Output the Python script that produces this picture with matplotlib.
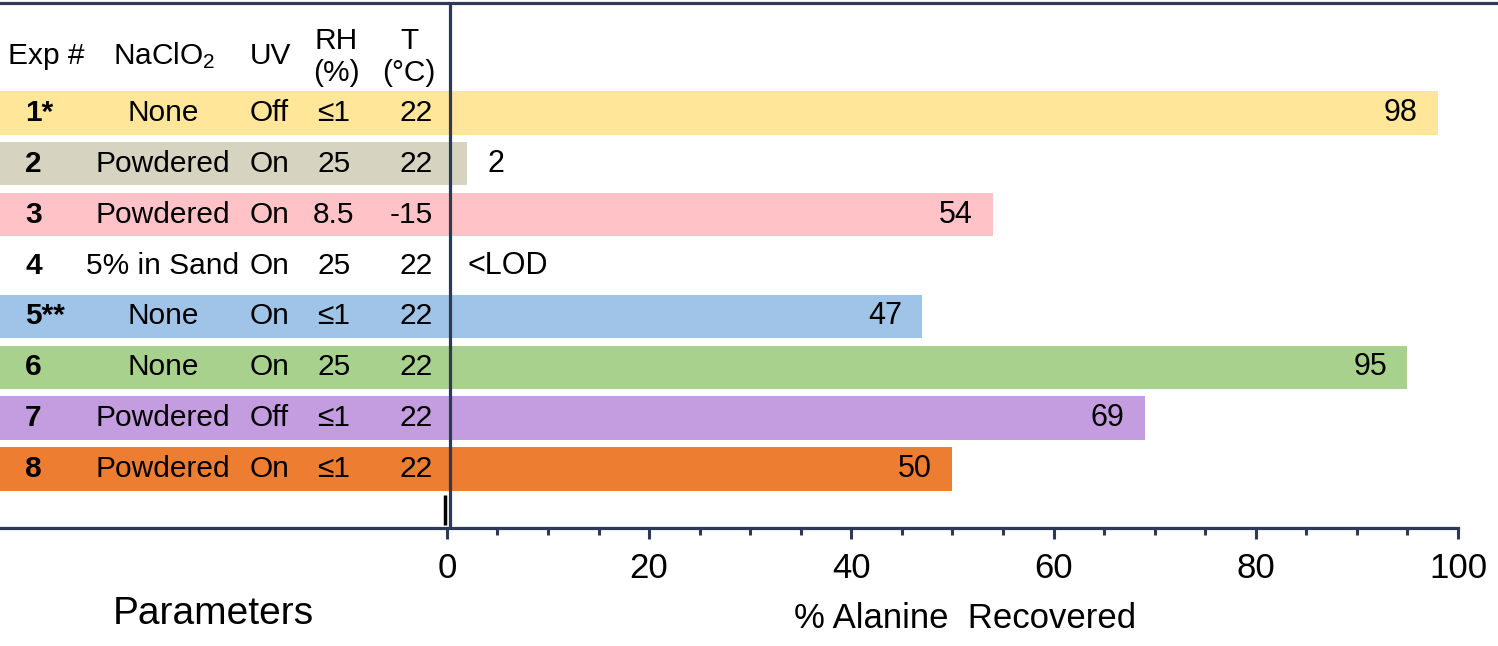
import matplotlib
matplotlib.use('Agg')
import matplotlib.pyplot as plt
import matplotlib.transforms as mtransforms

plt.rcParams['font.family'] = ['Liberation Sans', 'DejaVu Sans']
plt.rcParams['mathtext.fontset'] = 'custom'
plt.rcParams['mathtext.rm'] = 'Liberation Sans'
plt.rcParams['mathtext.default'] = 'regular'

# data
exp_ids = ['1*', '2', '3', '4', '5**', '6', '7', '8']
naclo2 = ['None', 'Powdered', 'Powdered', '5% in Sand', 'None', 'None', 'Powdered', 'Powdered']
uv = ['Off', 'On', 'On', 'On', 'On', 'On', 'Off', 'On']
rh = ['\u22641', '25', '8.5', '25', '\u22641', '25', '\u22641', '\u22641']
temp = ['22', '22', '-15', '22', '22', '22', '22', '22']
recovered = [98, 2, 54, 0, 47, 95, 69, 50]
value_labels = ['98', '2', '54', '<LOD', '47', '95', '69', '50']
colors = ['#FFE699', '#D7D3C1', '#FFC3C7', '#FFFFFF', '#9FC4E7', '#A9D18E', '#C49DE0', '#ED7D31']

navy = '#2E3A55'
fs = 21.5

fig = plt.figure(figsize=(14.98, 6.46), dpi=100)
ax = fig.add_axes([0, 1 - 528 / 646, 1458 / 1498, 525 / 646])

xmin = -44.2
ax.set_xlim(xmin, 100)
ax.set_ylim(8.15, -2.15)

rows = list(range(len(exp_ids)))
# table band on the left, bar on the right
ax.barh(rows, [-xmin] * len(rows), left=xmin, height=0.86, color=colors, zorder=1)
ax.barh(rows, recovered, left=0, height=0.86, color=colors, zorder=1)

# value labels
for i, (v, lab) in enumerate(zip(recovered, value_labels)):
    if v > 10:
        ax.text(v - 2, i, lab, ha='right', va='center', fontsize=22, zorder=3)
    else:
        ax.text(v + 2, i, lab, ha='left', va='center', fontsize=22, zorder=3)

# table text (x in axes fraction)
tr = mtransforms.blended_transform_factory(ax.transAxes, ax.transData)
W = 1458.0
for i in rows:
    ax.text(25 / W, i, exp_ids[i], transform=tr, ha='left', va='center', fontsize=fs, fontweight='bold')
    ax.text(163 / W, i, naclo2[i], transform=tr, ha='center', va='center', fontsize=fs)
    ax.text(250 / W, i, uv[i], transform=tr, ha='left', va='center', fontsize=fs)
    ax.text(334 / W, i, rh[i], transform=tr, ha='center', va='center', fontsize=fs)
    ax.text(433 / W, i, temp[i], transform=tr, ha='right', va='center', fontsize=fs)

hy = -1.12
ax.text(8 / W, hy, 'Exp #', transform=tr, ha='left', va='center', fontsize=fs)
ax.text(164 / W, hy, 'NaClO$_2$', transform=tr, ha='center', va='center', fontsize=fs)
ax.text(270 / W, hy, 'UV', transform=tr, ha='center', va='center', fontsize=fs)
ax.text(336 / W, hy + 0.03, 'RH\n(%)', transform=tr, ha='center', va='center', fontsize=fs, linespacing=1.2)
ax.text(409 / W, hy + 0.03, 'T\n(\u00b0C)', transform=tr, ha='center', va='center', fontsize=fs, linespacing=1.2)

# vertical axis line and small marker
ax.axvline(0.35, color=navy, lw=2.3, zorder=4)
ax.plot([-0.2, -0.2], [7.5, 8.1], color='black', lw=2.5, zorder=4, solid_capstyle='butt')

# spines and ticks
for s in ['top', 'left', 'right']:
    ax.spines[s].set_visible(False)
ax.spines['bottom'].set_color(navy)
ax.spines['bottom'].set_linewidth(2.3)
ax.set_yticks([])
ax.set_xticks(range(0, 101, 20))
ax.set_xticks([m for m in range(0, 101, 5) if m % 20], minor=True)
ax.tick_params(axis='x', which='major', length=8, width=2.2, color=navy, labelsize=25, pad=9)
ax.tick_params(axis='x', which='minor', length=5, width=2.2, color=navy)

# top line across full width
fig.add_artist(plt.Line2D([0, 1], [1 - 3 / 646, 1 - 3 / 646], color=navy, lw=2.3))

fig.text(213 / 1498, 1 - 614 / 646, 'Parameters', ha='center', va='center', fontsize=28)
fig.text(965 / 1498, 1 - 618 / 646, '% Alanine  Recovered', ha='center', va='center', fontsize=25)

fig.savefig('out.png', dpi=100)
